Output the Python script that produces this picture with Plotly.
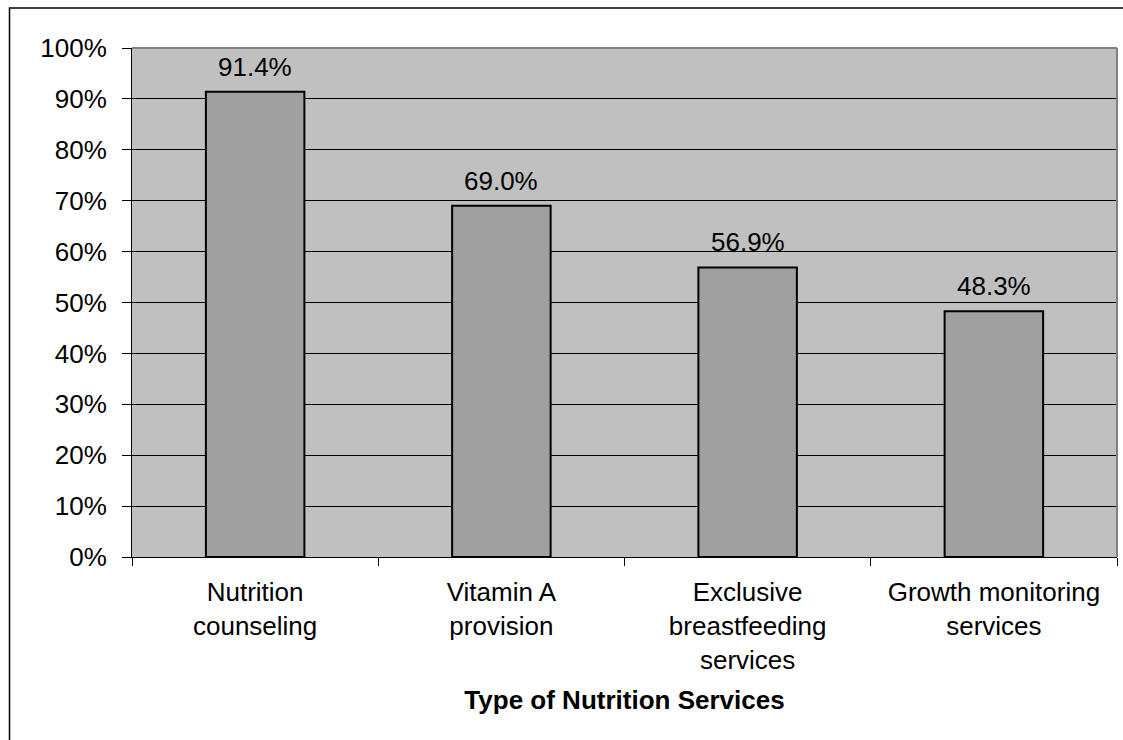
import plotly.graph_objects as go

categories = ["Nutrition<br>counseling", "Vitamin A<br>provision",
              "Exclusive<br>breastfeeding<br>services", "Growth monitoring<br>services"]
values = [91.4, 69.0, 56.9, 48.3]
y_ticks = [0, 10, 20, 30, 40, 50, 60, 70, 80, 90, 100]
y_tick_labels = [f"{t}%" for t in y_ticks]
x_title = "Type of Nutrition Services"

FONT = "Arial, Liberation Sans, sans-serif"

fig = go.Figure()
fig.add_trace(go.Bar(
    x=categories, y=values,
    marker=dict(color="#A0A0A0", line=dict(color="black", width=2)),
    width=0.4,
))

for c, v in zip(categories, values):
    fig.add_annotation(x=c, y=v, text=f"{v:.1f}%", showarrow=False,
                       yanchor="bottom", yshift=8,
                       font=dict(family=FONT, size=26, color="black"))

L, R, T, B = 132, 6, 48, 183
W, H = 1123, 740
pw, ph = W - L - R, H - T - B

fig.update_layout(
    width=W, height=H,
    margin=dict(l=L, r=R, t=T, b=B, pad=0),
    paper_bgcolor="white", plot_bgcolor="#C0C0C0",
    showlegend=False,
    font=dict(family=FONT, size=26, color="black"),
    shapes=[
        dict(type="rect", xref="paper", yref="paper",
             x0=(9.5 - L) / pw, x1=1.05, y0=-0.5, y1=1 + (T - 8) / ph,
             line=dict(color="black", width=1.5)),
    ],
)
fig.update_xaxes(
    type="category", tickson="boundaries", ticks="outside", ticklen=8,
    tickcolor="black", tickwidth=1, showline=True, linecolor="black", linewidth=1,
    showgrid=False, tickfont=dict(size=26), ticklabelstandoff=12,
    title=dict(text=f"<b>{x_title}</b>", font=dict(size=26), standoff=17),
    mirror=False,
)
fig.update_yaxes(
    range=[0, 100], tickvals=y_ticks, ticktext=y_tick_labels,
    ticks="outside", ticklen=9, tickcolor="black", tickwidth=1,
    showline=True, linecolor="black", linewidth=1,
    showgrid=True, gridcolor="black", gridwidth=1, zeroline=False,
    tickfont=dict(size=26), ticklabelstandoff=10,
)
# gray frame on top and right of plot area
fig.add_shape(type="line", xref="paper", yref="paper", x0=0, x1=1, y0=1, y1=1,
              line=dict(color="#808080", width=2))
fig.add_shape(type="line", xref="paper", yref="paper", x0=1, x1=1, y0=0, y1=1,
              line=dict(color="#808080", width=2))

fig.write_html("out.html")
